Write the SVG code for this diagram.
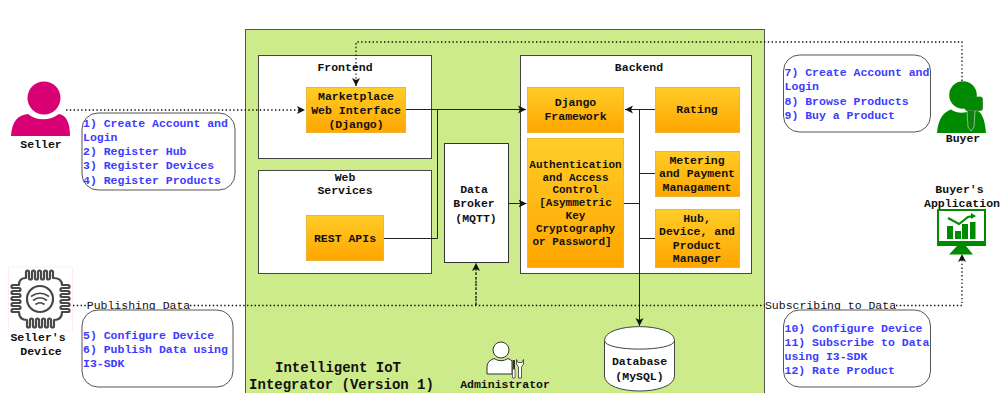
<svg xmlns="http://www.w3.org/2000/svg" width="1000" height="393" viewBox="0 0 1000 393">
<defs>
<linearGradient id="og" x1="0" y1="0" x2="0" y2="1"><stop offset="0" stop-color="#ffcd28"/><stop offset="1" stop-color="#ffa500"/></linearGradient>
<marker id="ah" markerUnits="userSpaceOnUse" markerWidth="10" markerHeight="10" refX="8" refY="4.5" orient="auto"><path d="M0,0.5 L8,4.5 L0,8.5 L2,4.5 Z" fill="#111"/></marker>
</defs>
<style>
text{font-family:"Liberation Mono",monospace;font-size:11.5px;font-weight:700;fill:#111;text-anchor:middle}
.b text{fill:#3c3cff;text-anchor:start}
.box{fill:#fff;stroke:#444;stroke-width:1}
.card{fill:#fff;stroke:#555;stroke-width:1}
.o{fill:url(#og);stroke:#e6ad1e;stroke-width:.8}
.c{fill:none;stroke:#222;stroke-width:1}
.d{fill:none;stroke:#111;stroke-width:1.3;stroke-dasharray:1.4 2.4}
#auth text{font-size:11px}
.lab{font-weight:400}
.t{font-size:14px}
</style>
<rect width="1000" height="393" fill="#fff"/>
<g id="integrator">
<rect x="245.500" y="29.500" width="519" height="370" fill="#cdeb8b" stroke="#555"/>
<text class="t" x="338" y="372">Intelligent IoT</text>
<text class="t" x="341.500" y="389">Integrator (Version 1)</text>
</g>
<g id="frontend"><rect class="box" x="258.500" y="55.500" width="173" height="103"/><text x="345" y="71">Frontend</text></g>
<g id="webservices"><rect class="box" x="258.500" y="170.500" width="173" height="103"/><text x="345" y="181">Web</text><text x="345" y="194">Services</text></g>
<g id="backend"><rect class="box" x="520.500" y="55.500" width="231" height="218"/><text x="639" y="71">Backend</text></g>
<g id="connectors">
<path class="c" d="M406,109.500H526" marker-end="url(#ah)"/>
<path class="c" d="M384,238.500H437.500V109.500"/>
<path class="c" d="M508,203.500H526.500" marker-end="url(#ah)"/>
<path class="c" d="M655,109.500H625" marker-end="url(#ah)"/>
<path class="c" d="M639.500,109.500V326" marker-end="url(#ah)"/>
<path class="c" d="M623,203.500H639.500M655,173.500H639.500M655,238.500H639.500"/>
<path class="d" d="M66,110H305" marker-end="url(#ah)"/>
<path class="d" d="M962,81V42H356V86" marker-end="url(#ah)"/>
<path class="d" d="M73,305.500H86M190,305.500H765M896,305.500H962V254" marker-end="url(#ah)"/>
<path class="d" d="M476,305V263" marker-end="url(#ah)"/>
<path d="M476,305V268" fill="none" stroke="#222" stroke-width="1" stroke-dasharray="3 2"/>
</g>
<g id="marketplace"><rect class="o" x="306.500" y="87.500" width="99" height="45"/><text x="356" y="100">Marketplace</text><text x="356" y="114">Web Interface</text><text x="356" y="128">(Django)</text></g>
<g id="restapis"><rect class="o" x="306.500" y="215.500" width="77" height="45"/><text x="345" y="242">REST APIs</text></g>
<g id="broker"><rect x="444.500" y="143.500" width="64" height="119" fill="#fff" stroke="#333"/><text x="474" y="193">Data</text><text x="474" y="207">Broker</text><text x="476" y="222">(MQTT)</text></g>
<g id="django"><rect class="o" x="527.500" y="87.500" width="96" height="45"/><text x="575.500" y="106">Django</text><text x="575.500" y="120">Framework</text></g>
<g id="auth"><rect class="o" x="527.500" y="138.500" width="96" height="129"/><text x="575.500" y="168">Authentication</text><text x="575.500" y="181">and Access</text><text x="575.500" y="193">Control</text><text x="575.500" y="206">[Asymmetric</text><text x="575.500" y="219">Key</text><text x="575.500" y="232">Cryptography</text><text x="572" y="245">or Password]</text></g>
<g id="rating"><rect class="o" x="655.500" y="87.500" width="84" height="45"/><text x="697" y="113">Rating</text></g>
<g id="metering"><rect class="o" x="655.500" y="151.500" width="84" height="45"/><text x="697" y="164">Metering</text><text x="697" y="177">and Payment</text><text x="697" y="191">Managament</text></g>
<g id="hub"><rect class="o" x="655.500" y="209.500" width="84" height="58"/><text x="697" y="222">Hub,</text><text x="697" y="235">Device, and</text><text x="697" y="249">Product</text><text x="697" y="262">Manager</text></g>
<g id="database">
<path d="M604.500,340.500C604.500,322 674.500,322 674.500,340.500V376C674.500,396 604.500,396 604.500,376Z" fill="#fff" stroke="#444"/>
<path d="M604.500,340.500C604.500,352 674.500,352 674.500,340.500" fill="none" stroke="#444"/>
<text x="639.500" y="365">Database</text><text x="639.500" y="380">(MySQL)</text>
</g>
<g id="administrator">
<circle cx="501" cy="350" r="8" fill="#fff" stroke="#333"/>
<path d="M487,374V366Q487.500,361 494,358.500Q501,363 508,358.500Q511,360 512,361V374Z" fill="#fff" stroke="#333"/>
<path d="M512.500,360H515V369H512.500Z" fill="#333"/><path d="M512.500,369H515V378H512.500Z" fill="#fff" stroke="#333" stroke-width=".7"/>
<path d="M516.500,359.500V364L518.500,367V378H521.500V367L523.500,364V359.500L522,362.500H518L516.500,359.500Z" fill="#fff" stroke="#333" stroke-width=".8"/>
<text x="505" y="388">Administrator</text>
</g>
<g id="seller">
<circle cx="44" cy="98" r="16.500" fill="#d80073"/>
<path d="M11,136C12,122 17,115 28,114C36,121 50,121 59,114C66,115 70,122 70,136Z" fill="#d80073"/>
<text x="41" y="148">Seller</text>
</g>
<g id="sellerdevice">
<rect x="8.500" y="267" width="64" height="64" fill="#fff" stroke="#fde8f1" stroke-width=".8"/>
<path fill="none" stroke="#484848" stroke-width="2.200" stroke-linejoin="round" d="M26,278v-6a1.500,1.500 0 0 1 3,0v6a1.500,1.500 0 0 0 3,0v-6a1.500,1.500 0 0 1 3,0v6a1.500,1.500 0 0 0 3,0v-6a1.500,1.500 0 0 1 3,0v6a1.500,1.500 0 0 0 3,0v-6a1.500,1.500 0 0 1 3,0v6a1.500,1.500 0 0 0 3,0v-6a1.500,1.500 0 0 1 3,0v6Q62,278 62,285h6a1.500,1.500 0 0 1 0,3h-6a1.500,1.500 0 0 0 0,3h6a1.500,1.500 0 0 1 0,3h-6a1.500,1.500 0 0 0 0,3h6a1.500,1.500 0 0 1 0,3h-6a1.500,1.500 0 0 0 0,3h6a1.500,1.500 0 0 1 0,3h-6a1.500,1.500 0 0 0 0,3h6a1.500,1.500 0 0 1 0,3h-6Q62,320 54,320v6a1.500,1.500 0 0 1 -3,0v-6a1.500,1.500 0 0 0 -3,0v6a1.500,1.500 0 0 1 -3,0v-6a1.500,1.500 0 0 0 -3,0v6a1.500,1.500 0 0 1 -3,0v-6a1.500,1.500 0 0 0 -3,0v6a1.500,1.500 0 0 1 -3,0v-6a1.500,1.500 0 0 0 -3,0v6a1.500,1.500 0 0 1 -3,0v-6Q19,320 19,312h-6a1.500,1.500 0 0 1 0,-3h6a1.500,1.500 0 0 0 0,-3h-6a1.500,1.500 0 0 1 0,-3h6a1.500,1.500 0 0 0 0,-3h-6a1.500,1.500 0 0 1 0,-3h6a1.500,1.500 0 0 0 0,-3h-6a1.500,1.500 0 0 1 0,-3h6a1.500,1.500 0 0 0 0,-3h-6a1.500,1.500 0 0 1 0,-3h6Q19,278 26,278Z"/>
<circle cx="40" cy="299" r="13" fill="none" stroke="#484848" stroke-width="2.200"/>
<path d="M31,296.500Q40,290 49,296.500M33,300.500Q40,295 47,300.500M35.500,304.500Q40,301 44.500,304.500" fill="none" stroke="#484848" stroke-width="1.600"/>
<text x="38" y="341">Seller's</text><text x="41" y="355">Device</text>
</g>
<g id="buyer">
<circle cx="963" cy="95" r="13.800" fill="#008a00"/>
<path d="M937,133C938,120 943,112 951,109.500C956,113 962,113.500 967,112L978,111C982,113 985,120 986,133Z" fill="#008a00"/>
<rect x="965" y="97" width="17.500" height="13.500" rx="2" fill="#008a00" stroke="#2f7a2f" stroke-width=".8"/>
<path d="M967,111L968,127L971,131L974,127L975,111" fill="#0b820b" stroke="#fff" stroke-width=".5"/>
<text x="963" y="142">Buyer</text>
</g>
<g id="buyerapp">
<rect x="937" y="209" width="49" height="37" fill="#008a00"/>
<rect x="939" y="211" width="45" height="30" fill="#fff"/>
<rect x="947" y="226" width="6" height="13" fill="#008a00"/><rect x="955" y="231" width="6" height="8" fill="#008a00"/><rect x="962" y="224" width="6" height="15" fill="#008a00"/><rect x="970" y="222" width="5.500" height="17" fill="#008a00"/>
<path d="M948,218L959,224L968,217L973,216" fill="none" stroke="#008a00" stroke-width="2"/><path d="M971,213L976,216L971,219Z" fill="#008a00"/>
<path d="M957,246H966L973,254.500H949Z" fill="#008a00"/>
<text x="959.500" y="193">Buyer's</text><text x="962" y="207">Application</text>
</g>
<g id="labels">
<text class="lab" x="138.500" y="309">Publishing Data</text>
<text class="lab" x="830.500" y="309">Subscribing to Data</text>
</g>
<g id="sellersteps" class="b"><rect class="card" x="82" y="113" width="153" height="77" rx="16"/><text x="83" y="127">1) Create Account and</text><text x="83" y="141">Login</text><text x="83" y="155">2) Register Hub</text><text x="83" y="169">3) Register Devices</text><text x="83" y="184">4) Register Products</text></g>
<g id="devicesteps" class="b"><rect class="card" x="82" y="310" width="151" height="77" rx="16"/><text x="83" y="339">5) Configure Device</text><text x="83" y="353">6) Publish Data using</text><text x="83" y="367">I3-SDK</text></g>
<g id="buyersteps" class="b"><rect class="card" x="783.500" y="55" width="147" height="77" rx="16"/><text x="784.500" y="76">7) Create Account and</text><text x="784.500" y="90">Login</text><text x="784.500" y="105">8) Browse Products</text><text x="784.500" y="119">9) Buy a Product</text></g>
<g id="appsteps" class="b"><rect class="card" x="783.500" y="310" width="147" height="77" rx="16"/><text x="784.500" y="332">10) Configure Device</text><text x="784.500" y="346">11) Subscribe to Data</text><text x="784.500" y="360">using I3-SDK</text><text x="784.500" y="374">12) Rate Product</text></g>
</svg>
